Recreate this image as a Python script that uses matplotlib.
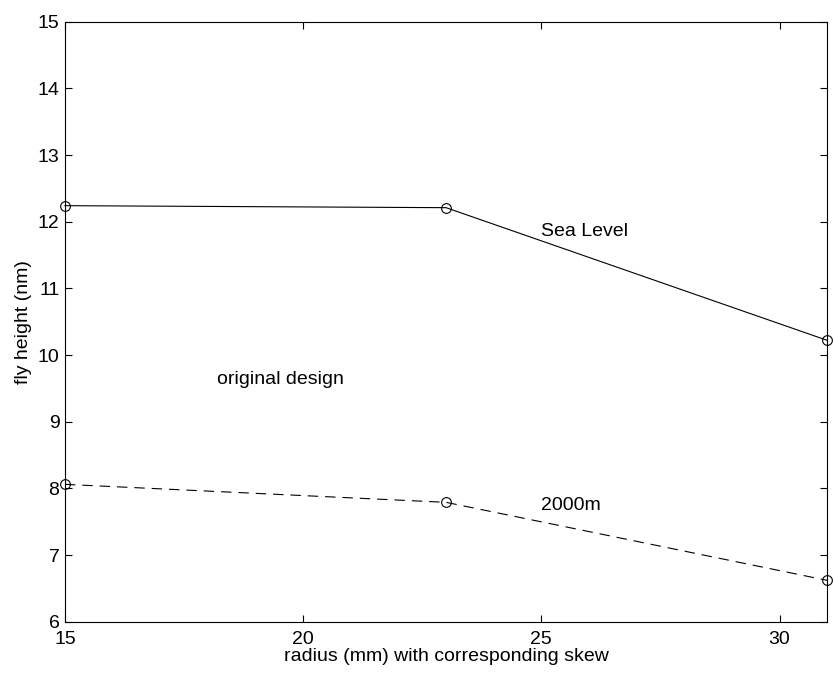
import numpy as np
import matplotlib.pyplot as plt

plt.rcParams['font.family'] = ['Liberation Sans', 'DejaVu Sans']
plt.rcParams['lines.scale_dashes'] = False

# radius positions and fly height at each altitude
radius = [15, 23, 31]
sea_level = [12.24, 12.21, 10.22]
alt_2000m = [8.06, 7.79, 6.62]

fig = plt.figure(figsize=(8.33, 6.88), dpi=100)
ax = fig.add_axes([0.078, 0.0964, 0.915, 0.8721])

ax.plot(radius, sea_level, color='k', lw=0.8, marker='o', ms=7,
        mfc='none', mec='k', mew=0.8, clip_on=False)
ax.plot(radius, alt_2000m, color='k', lw=0.8, dashes=(7.5, 5), marker='o',
        ms=7, mfc='none', mec='k', mew=0.8, clip_on=False)

ax.text(25.0, 11.85, 'Sea Level', fontsize=14, va='center', ha='left')
ax.text(25.0, 7.75, '2000m', fontsize=14, va='center', ha='left')
ax.text(18.2, 9.63, 'original design', fontsize=14, va='center', ha='left')

ax.set_xlim(15, 31)
ax.set_ylim(6, 15)
ax.set_xticks([15, 20, 25, 30])
ax.set_yticks(np.arange(6, 16))
ax.tick_params(direction='in', length=5, width=0.8, labelsize=14,
               top=True, right=True)
ax.tick_params(axis='x', pad=6.5)
ax.tick_params(axis='y', pad=4)
for s in ax.spines.values():
    s.set_linewidth(0.8)

ax.set_xlabel('radius (mm) with corresponding skew', fontsize=14, labelpad=0)
ax.set_ylabel('fly height (nm)', fontsize=14, labelpad=4)

fig.savefig('out.png', dpi=100)
